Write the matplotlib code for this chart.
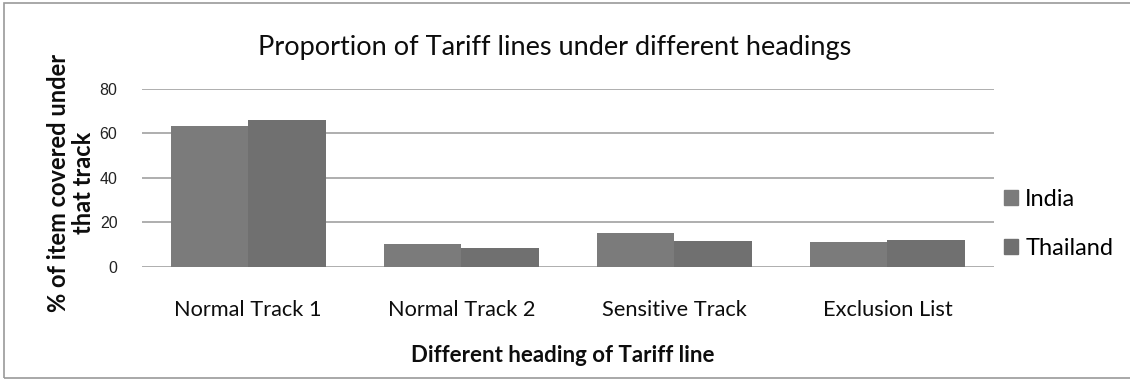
import matplotlib
matplotlib.use("Agg")
import matplotlib.pyplot as plt
from matplotlib.patches import Rectangle, Patch
import numpy as np

categories = ["Normal Track 1", "Normal Track 2", "Sensitive Track", "Exclusion List"]
series_names = ["India", "Thailand"]
india = [63.5, 10.0, 15.0, 11.0]
thailand = [66.0, 8.5, 11.5, 12.0]
yticks = [0, 20, 40, 60, 80]

title = "Proportion of Tariff lines under different headings"
xlabel = "Different heading of Tariff line"
ylabel = "% of item covered under\nthat track"

c_india = "#7b7b7b"
c_thai = "#707070"
grid_c = "#a8a8a8"
font = "Lato"
txt_c = "#0d0d0d"

W, H = 1130, 379
fig = plt.figure(figsize=(W / 100, H / 100), dpi=100)
fig.patch.set_facecolor("white")

# outer border
fig.add_artist(Rectangle((4 / W, 1 - 378 / H), 1.2, (378 - 3) / H,
                         transform=fig.transFigure, fill=False,
                         edgecolor="#9a9a9a", linewidth=1.2))

ax = fig.add_axes([141.7 / W, 1 - 266.7 / H, (994 - 141.7) / W, (266.7 - 89) / H])
x = np.arange(len(categories))
bw = 0.363
ax.bar(x - bw / 2, india, bw, color=c_india, label=series_names[0], zorder=3)
ax.bar(x + bw / 2, thailand, bw, color=c_thai, label=series_names[1], zorder=3)

ax.set_xlim(-0.5, len(categories) - 0.5)
ax.set_ylim(0, 80)
ax.set_yticks(yticks)
ax.set_yticklabels([str(v) for v in yticks], fontfamily="Liberation Sans",
                   fontsize=11.5, color="#222222")
ax.tick_params(axis="y", length=0, pad=17.5)
ax.set_xticks(x)
ax.set_xticklabels(categories, fontfamily=font, fontsize=15.7, color=txt_c)
ax.tick_params(axis="x", length=0, pad=24)
for s in ax.spines.values():
    s.set_visible(False)
ax.yaxis.grid(True, color=grid_c, linewidth=1.3, zorder=0)
ax.set_axisbelow(True)

fig.text(555 / W, 1 - 47 / H, title, ha="center", va="center",
         fontfamily=font, fontsize=19.5, color=txt_c)
fig.text(563 / W, 1 - 356 / H, xlabel, ha="center", va="center",
         fontfamily=font, fontsize=16, fontweight="bold", color=txt_c)
fig.text(71 / W, 1 - 183 / H, ylabel, ha="center", va="center", rotation=90,
         fontfamily=font, fontsize=17, fontweight="bold", color=txt_c,
         linespacing=1.1)

handles = [Patch(color=c_india), Patch(color=c_thai)]
leg = fig.legend(handles, series_names, loc="center left",
                 bbox_to_anchor=(1004 / W, 1 - 224 / H), frameon=False,
                 borderaxespad=0, borderpad=0,
                 handlelength=0.6, handleheight=0.6, handletextpad=0.3,
                 labelspacing=1.18,
                 prop={"family": font, "size": 17})

fig.savefig("out.png", dpi=100)
